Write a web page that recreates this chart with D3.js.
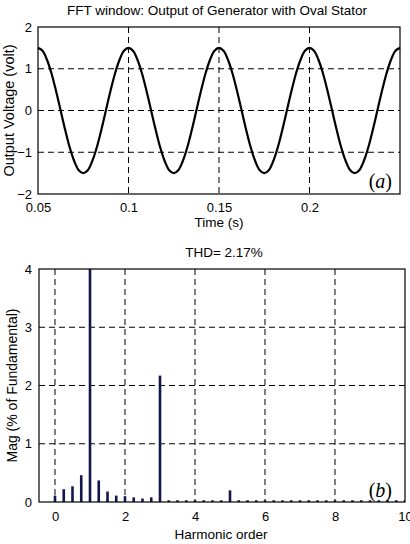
<!DOCTYPE html>
<html>
<head>
<meta charset="utf-8">
<script src="https://cdn.jsdelivr.net/npm/d3@7"></script>
<style>
  body { margin: 0; background: #fff; }
  svg { display: block; font-family: "Liberation Sans", Arial, sans-serif; }
</style>
</head>
<body>
<svg></svg>
<script>
// panel (a): generator output voltage
let times = [
  0.05, 0.0525, 0.055, 0.0575, 0.06, 0.0625, 0.065, 0.0675, 0.07, 0.0725,
  0.075, 0.0775, 0.08, 0.0825, 0.085, 0.0875, 0.09, 0.0925, 0.095, 0.0975,
  0.1, 0.1025, 0.105, 0.1075, 0.11, 0.1125, 0.115, 0.1175, 0.12, 0.1225,
  0.125, 0.1275, 0.13, 0.1325, 0.135, 0.1375, 0.14, 0.1425, 0.145, 0.1475,
  0.15, 0.1525, 0.155, 0.1575, 0.16, 0.1625, 0.165, 0.1675, 0.17, 0.1725,
  0.175, 0.1775, 0.18, 0.1825, 0.185, 0.1875, 0.19, 0.1925, 0.195, 0.1975,
  0.2, 0.2025, 0.205, 0.2075, 0.21, 0.2125, 0.215, 0.2175, 0.22, 0.2225,
  0.225, 0.2275, 0.23, 0.2325, 0.235, 0.2375, 0.24, 0.2425, 0.245, 0.2475,
  0.25
]
let volts = [
  1.50, 1.43, 1.21, 0.88, 0.46, 0.00, -0.46, -0.88, -1.21, -1.43,
  -1.50, -1.43, -1.21, -0.88, -0.46, 0.00, 0.46, 0.88, 1.21, 1.43,
  1.50, 1.43, 1.21, 0.88, 0.46, 0.00, -0.46, -0.88, -1.21, -1.43,
  -1.50, -1.43, -1.21, -0.88, -0.46, 0.00, 0.46, 0.88, 1.21, 1.43,
  1.50, 1.43, 1.21, 0.88, 0.46, 0.00, -0.46, -0.88, -1.21, -1.43,
  -1.50, -1.43, -1.21, -0.88, -0.46, 0.00, 0.46, 0.88, 1.21, 1.43,
  1.50, 1.43, 1.21, 0.88, 0.46, 0.00, -0.46, -0.88, -1.21, -1.43,
  -1.50, -1.43, -1.21, -0.88, -0.46, 0.00, 0.46, 0.88, 1.21, 1.43,
  1.50
]
let timeTicks = [0.05, 0.1, 0.15, 0.2]
let timeGrid = [0.1, 0.15, 0.2]
let voltTicks = [-2, -1, 0, 1, 2]
let voltGrid = [-1, 0, 1]

// panel (b): harmonic spectrum
let orders = [
  0, 0.25, 0.5, 0.75, 1, 1.25, 1.5, 1.75, 2, 2.25, 2.5, 2.75,
  3, 3.25, 3.5, 3.75, 4, 4.25, 4.5, 4.75,
  5, 5.25, 5.5, 5.75, 6, 6.25, 6.5, 6.75, 7, 7.25, 7.5, 7.75,
  8, 8.25, 8.5, 8.75, 9, 9.25, 9.5, 9.75, 10
]
let mags = [
  0.11, 0.22, 0.27, 0.46, 100, 0.37, 0.18, 0.11, 0.10, 0.08, 0.06, 0.08,
  2.17, 0.03, 0.03, 0.03, 0.03, 0.03, 0.03, 0.03,
  0.20, 0.03, 0.03, 0.03, 0.03, 0.03, 0.03, 0.03, 0.03, 0.03, 0.03, 0.03,
  0.03, 0.03, 0.03, 0.03, 0.03, 0.03, 0.03, 0.03, 0.03
]
let orderTicks = [0, 2, 4, 6, 8, 10]
let orderGrid = [0, 2, 4, 6, 8]
let magTicks = [0, 1, 2, 3, 4]
let magGrid = [1, 2, 3]

let width = 410
let height = 544

let svg = d3.select('svg')
    .attr('width', width)
    .attr('height', height)

let gridLine = (sel) => {
    sel.attr('stroke', '#000')
       .attr('stroke-width', 1)
       .attr('stroke-dasharray', '6,4')
}

let drawFrame = (x0, x1, y0, y1) => {
    svg.append('rect')
       .attr('x', x0)
       .attr('y', y0)
       .attr('width', x1 - x0)
       .attr('height', y1 - y0)
       .attr('fill', 'none')
       .attr('stroke', '#000')
       .attr('stroke-width', 1.2)
}

let styleAxis = (g) => {
    g.select('.domain').remove()
    g.selectAll('.tick line').remove()
    g.selectAll('.tick text')
     .attr('font-family', '"Liberation Sans", Arial, sans-serif')
     .attr('font-size', 13)
     .attr('fill', '#000')
}

// ---------- panel (a) ----------
let drawTop = () => {
    let left = 38, right = 400, top = 27, bottom = 194

    let xScale = d3.scaleLinear().domain([0.05, 0.25]).range([left, right])
    let yScale = d3.scaleLinear().domain([-2, 2]).range([bottom, top])

    svg.selectAll('.vgridA')
       .data(timeGrid)
       .enter()
       .append('line')
       .attr('x1', (d) => xScale(d))
       .attr('x2', (d) => xScale(d))
       .attr('y1', top)
       .attr('y2', bottom)
       .call(gridLine)

    svg.selectAll('.hgridA')
       .data(voltGrid)
       .enter()
       .append('line')
       .attr('x1', left)
       .attr('x2', right)
       .attr('y1', (d) => yScale(d))
       .attr('y2', (d) => yScale(d))
       .call(gridLine)

    let line = d3.line()
        .x((d, i) => xScale(times[i]))
        .y((d) => yScale(d))
        .curve(d3.curveCatmullRom)

    svg.append('path')
       .datum(volts)
       .attr('d', line)
       .attr('fill', 'none')
       .attr('stroke', '#000')
       .attr('stroke-width', 2.2)

    drawFrame(left, right, top, bottom)

    svg.append('g')
       .attr('transform', 'translate(0,' + (bottom + 5.5) + ')')
       .call(d3.axisBottom(xScale).tickValues(timeTicks).tickSize(0).tickFormat(d3.format('~g')))
       .call(styleAxis)

    svg.append('g')
       .attr('transform', 'translate(' + (left - 3) + ',0)')
       .call(d3.axisLeft(yScale).tickValues(voltTicks).tickSize(0).tickFormat(d3.format('d')))
       .call(styleAxis)

    svg.append('text')
       .attr('x', 217)
       .attr('y', 15)
       .attr('text-anchor', 'middle')
       .attr('font-size', 13.5)
       .text('FFT window: Output of Generator with Oval Stator')

    svg.append('text')
       .attr('x', 219)
       .attr('y', 227)
       .attr('text-anchor', 'middle')
       .attr('font-size', 13.5)
       .text('Time (s)')

    svg.append('text')
       .attr('transform', 'translate(14,' + ((top + bottom) / 2) + ') rotate(-90)')
       .attr('text-anchor', 'middle')
       .attr('font-size', 14.5)
       .text('Output Voltage (volt)')

    let lab = svg.append('text')
       .attr('x', 392)
       .attr('y', 188)
       .attr('text-anchor', 'end')
       .attr('font-family', '"Liberation Serif", "Times New Roman", serif')
       .attr('font-size', 20)
    lab.append('tspan').text('(')
    lab.append('tspan').attr('font-style', 'italic').text('a')
    lab.append('tspan').text(')')
}

// ---------- panel (b) ----------
let drawBottom = () => {
    let left = 39, right = 405, top = 269, bottom = 502

    let xScale = d3.scaleLinear().domain([-0.457, 10]).range([left, right])
    let yScale = d3.scaleLinear().domain([0, 4]).range([bottom, top])

    svg.append('clipPath')
       .attr('id', 'clipB')
       .append('rect')
       .attr('x', left)
       .attr('y', top)
       .attr('width', right - left)
       .attr('height', bottom - top)

    svg.selectAll('.vgridB')
       .data(orderGrid)
       .enter()
       .append('line')
       .attr('x1', (d) => xScale(d))
       .attr('x2', (d) => xScale(d))
       .attr('y1', top)
       .attr('y2', bottom)
       .call(gridLine)

    svg.selectAll('.hgridB')
       .data(magGrid)
       .enter()
       .append('line')
       .attr('x1', left)
       .attr('x2', right)
       .attr('y1', (d) => yScale(d))
       .attr('y2', (d) => yScale(d))
       .call(gridLine)

    let barW = 2.6
    svg.append('g')
       .attr('clip-path', 'url(#clipB)')
       .selectAll('rect')
       .data(mags)
       .enter()
       .append('rect')
       .attr('x', (d, i) => xScale(orders[i]) - barW / 2)
       .attr('y', (d) => yScale(Math.min(d, 4.2)))
       .attr('width', barW)
       .attr('height', (d) => bottom - yScale(Math.min(d, 4.2)))
       .attr('fill', '#16164f')

    drawFrame(left, right, top, bottom)

    svg.append('g')
       .attr('transform', 'translate(0,' + (bottom + 6.5) + ')')
       .call(d3.axisBottom(xScale).tickValues(orderTicks).tickSize(0).tickFormat(d3.format('d')))
       .call(styleAxis)

    svg.append('g')
       .attr('transform', 'translate(' + (left - 4) + ',0)')
       .call(d3.axisLeft(yScale).tickValues(magTicks).tickSize(0).tickFormat(d3.format('d')))
       .call(styleAxis)

    svg.append('text')
       .attr('x', 224)
       .attr('y', 257)
       .attr('text-anchor', 'middle')
       .attr('font-size', 13.5)
       .text('THD= 2.17%')

    svg.append('text')
       .attr('x', 221)
       .attr('y', 539)
       .attr('text-anchor', 'middle')
       .attr('font-size', 13.5)
       .text('Harmonic order')

    svg.append('text')
       .attr('transform', 'translate(17,' + ((top + bottom) / 2) + ') rotate(-90)')
       .attr('text-anchor', 'middle')
       .attr('font-size', 14)
       .text('Mag (% of Fundamental)')

    let lab = svg.append('text')
       .attr('x', 392)
       .attr('y', 497)
       .attr('text-anchor', 'end')
       .attr('font-family', '"Liberation Serif", "Times New Roman", serif')
       .attr('font-size', 20)
    lab.append('tspan').text('(')
    lab.append('tspan').attr('font-style', 'italic').text('b')
    lab.append('tspan').text(')')
}

drawTop()
drawBottom()
</script>
</body>
</html>
